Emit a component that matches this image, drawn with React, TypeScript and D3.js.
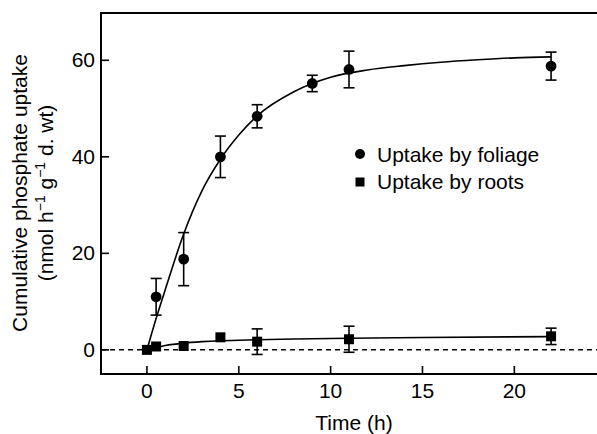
import React from "react";
import * as d3 from "d3";

const foliageTime = [0.5, 2, 4, 6, 9, 11, 22];
const foliageValue = [11, 18.8, 40, 48.4, 55.2, 58.1, 58.8];
const foliageErr = [3.8, 5.5, 4.3, 2.4, 1.7, 3.8, 2.9];

const rootsTime = [0, 0.5, 2, 4, 6, 11, 22];
const rootsValue = [0, 0.7, 0.8, 2.6, 1.7, 2.2, 2.8];
const rootsErr = [0, 0, 0, 0, 2.65, 2.7, 1.7];

// Fitted curves
const foliageFitTime = [0, 0.5, 1, 2, 3, 4, 5, 6, 8, 10, 12, 14, 16, 18, 20, 22];
const foliageFitValue = [0, 6.5, 12.5, 24, 33, 39.5, 44.5, 48.5, 53.5, 56.5, 58.0, 58.9, 59.6, 60.1, 60.5, 60.7];
const rootsFitTime = [0, 0.5, 1, 2, 3, 4, 6, 8, 11, 15, 22];
const rootsFitValue = [0, 0.5, 0.9, 1.4, 1.7, 1.9, 2.1, 2.25, 2.4, 2.55, 2.75];

const xTicks = [0, 5, 10, 15, 20];
const yTicks = [0, 20, 40, 60];

const W = 597;
const H = 434;
const FONT = "'Liberation Sans', Arial, Helvetica, sans-serif";
const FS = 21;

export default function App() {
  const left = 101, right = 597, top = 13, bottom = 374;
  const x = d3.scaleLinear().domain([-2.5, 24.5]).range([left, right]);
  const y = d3.scaleLinear().domain([-5, 69.8]).range([bottom, top]);

  const line = d3
    .line<[number, number]>()
    .x((d) => x(d[0]))
    .y((d) => y(d[1]))
    .curve(d3.curveMonotoneX);

  const foliageFit = line(foliageFitTime.map((t, i) => [t, foliageFitValue[i]]) as [number, number][]) || "";
  const rootsFit = line(rootsFitTime.map((t, i) => [t, rootsFitValue[i]]) as [number, number][]) || "";

  const cap = 5.5;
  const errBar = (t: number, v: number, e: number, key: string) =>
    e > 0 ? (
      <g key={key} stroke="#000" strokeWidth={1.6}>
        <line x1={x(t)} x2={x(t)} y1={y(v + e)} y2={y(v - e)} />
        <line x1={x(t) - cap} x2={x(t) + cap} y1={y(v + e)} y2={y(v + e)} />
        <line x1={x(t) - cap} x2={x(t) + cap} y1={y(v - e)} y2={y(v - e)} />
      </g>
    ) : null;

  return (
    <svg
      width={W}
      height={H}
      style={{ position: "absolute", left: 0, top: 0, background: "#fff" }}
      fontFamily={FONT}
    >
      <rect x={0} y={0} width={W} height={H} fill="#fff" />
      {/* zero dashed line */}
      <line x1={left} x2={right} y1={y(0)} y2={y(0)} stroke="#000" strokeWidth={1.5} strokeDasharray="5,4" />

      {/* fitted curves */}
      <path d={foliageFit} fill="none" stroke="#000" strokeWidth={1.6} />
      <path d={rootsFit} fill="none" stroke="#000" strokeWidth={1.6} />

      {/* error bars */}
      {foliageTime.map((t, i) => errBar(t, foliageValue[i], foliageErr[i], "fe" + i))}
      {rootsTime.map((t, i) => errBar(t, rootsValue[i], rootsErr[i], "re" + i))}

      {/* markers */}
      {foliageTime.map((t, i) => (
        <circle key={"fc" + i} cx={x(t)} cy={y(foliageValue[i])} r={5.4} fill="#000" />
      ))}
      {rootsTime.map((t, i) => (
        <rect key={"rs" + i} x={x(t) - 5} y={y(rootsValue[i]) - 5} width={10} height={10} fill="#000" />
      ))}

      {/* frame / axes */}
      <line x1={left} x2={right} y1={top} y2={top} stroke="#000" strokeWidth={2} />
      <line x1={left} x2={left} y1={top - 1} y2={bottom + 1} stroke="#000" strokeWidth={2} />
      <line x1={left} x2={right} y1={bottom} y2={bottom} stroke="#000" strokeWidth={2} />

      {/* x ticks */}
      {xTicks.map((t) => (
        <g key={"xt" + t}>
          <line x1={x(t)} x2={x(t)} y1={bottom} y2={bottom - 8} stroke="#000" strokeWidth={1.6} />
          <text x={x(t)} y={398} textAnchor="middle" fontSize={FS} fill="#000">
            {t}
          </text>
        </g>
      ))}
      {/* y ticks */}
      {yTicks.map((v) => (
        <g key={"yt" + v}>
          <line x1={left} x2={left + 8} y1={y(v)} y2={y(v)} stroke="#000" strokeWidth={1.6} />
          <text x={95} y={y(v) + 7} textAnchor="end" fontSize={FS} fill="#000">
            {v}
          </text>
        </g>
      ))}

      {/* axis titles */}
      <text x={354} y={430} textAnchor="middle" fontSize={FS} fill="#000">
        Time (h)
      </text>
      <g transform="translate(27,193) rotate(-90)">
        <text x={0} y={0} textAnchor="middle" fontSize={FS} fill="#000">
          Cumulative phosphate uptake
        </text>
      </g>
      <g transform="translate(53,193) rotate(-90)">
        <text x={0} y={0} textAnchor="middle" fontSize={FS} fill="#000">
          (nmol h
          <tspan fontSize={14} dy={-8}>−1</tspan>
          <tspan dy={8}> g</tspan>
          <tspan fontSize={14} dy={-8}>−1</tspan>
          <tspan dy={8}> d. wt)</tspan>
        </text>
      </g>

      {/* legend */}
      <circle cx={360} cy={154} r={5} fill="#000" />
      <text x={377} y={162} fontSize={FS} fill="#000">
        Uptake by foliage
      </text>
      <rect x={355.5} y={177.5} width={9} height={9} fill="#000" />
      <text x={377} y={189} fontSize={FS} fill="#000">
        Uptake by roots
      </text>
    </svg>
  );
}
